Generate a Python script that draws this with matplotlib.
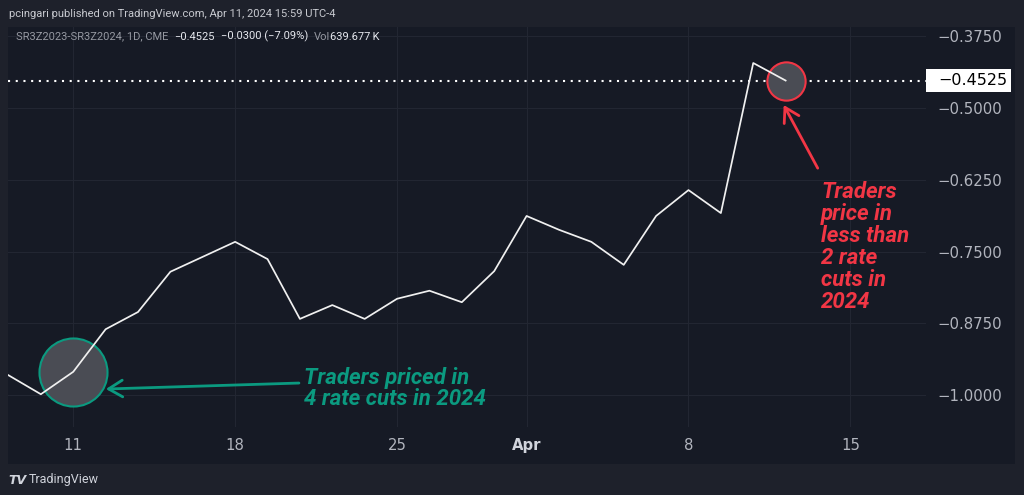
import matplotlib
matplotlib.use("Agg")
import matplotlib.pyplot as plt
import matplotlib.transforms as mtransforms
import pandas as pd

# trading days shown on the axis (Good Friday closed), incl. two empty future days
days = [d for d in pd.bdate_range("2024-03-07", "2024-04-15") if d != pd.Timestamp("2024-03-29")]

# SR3Z2023-SR3Z2024 spread, daily close
spread = [-0.965, -0.998, -0.959, -0.885, -0.855, -0.785, -0.759, -0.733,
          -0.763, -0.867, -0.843, -0.867, -0.832, -0.818, -0.838, -0.784,
          -0.688, -0.712, -0.733, -0.773, -0.688, -0.643, -0.683, -0.422,
          -0.4525]

yticks = [-0.375, -0.5, -0.625, -0.75, -0.875, -1.0]
ytick_labels = ["\u22120.3750", "\u22120.5000", "\u22120.6250", "\u22120.7500", "\u22120.8750", "\u22121.0000"]
xtick_days = ["2024-03-11", "2024-03-18", "2024-03-25", "2024-04-01", "2024-04-08", "2024-04-15"]
xtick_labels = ["11", "18", "25", "Apr", "8", "15"]

last = spread[-1]
W, H = 1024, 495
outer_bg = "#1e212b"
panel_bg = "#161a25"
grid_c = "#222632"
text_c = "#b2b5be"
green = "#0b9a80"
red = "#f23645"

fig = plt.figure(figsize=(W / 100, H / 100), dpi=100, facecolor=outer_bg)

# dark chart panel (price scale + time scale included)
bg = fig.add_axes([8 / W, 1 - 464 / H, (1015 - 8) / W, (464 - 27) / H], facecolor=panel_bg)
bg.set_axis_off()
bg.add_patch(matplotlib.patches.Rectangle((0, 0), 1, 1, transform=bg.transAxes,
                                          facecolor=panel_bg, edgecolor="none"))

ax = fig.add_axes([8 / W, 1 - 427 / H, (926 - 8) / W, (427 - 27) / H])
ax.set_facecolor("none")
x = list(range(len(spread)))
ax.plot(x, spread, color="#f0f0f0", lw=1.25, zorder=7)

ax.set_xlim(-0.015, 28.335)
ax.set_ylim(-1.055, -0.3594)

xpos = [days.index(pd.Timestamp(d)) for d in xtick_days]
ax.set_xticks(xpos)
ax.set_xticklabels(xtick_labels)
ax.set_yticks(yticks)
ax.set_yticklabels(ytick_labels)
ax.yaxis.tick_right()
ax.tick_params(axis="both", length=0, colors=text_c, labelsize=10.7)
ax.tick_params(axis="y", pad=8.5)
ax.tick_params(axis="x", pad=8)
for lbl in ax.get_xticklabels():
    if lbl.get_text() == "Apr":
        lbl.set_fontweight("bold")
        lbl.set_color("#d1d4dc")
ax.grid(True, color=grid_c, lw=0.8)
for s in ax.spines.values():
    s.set_visible(False)

# last price dotted line and price label
ax.axhline(last, color="white", lw=1.5, ls=(0, (1, 2.7)), zorder=4)
trans = mtransforms.blended_transform_factory(ax.transAxes, ax.transData)
lbl_tr = mtransforms.offset_copy(trans, fig, x=12, y=0, units="dots")
ax.text(1.0, last, "\u22120.4525", transform=lbl_tr, ha="left", va="center",
        fontsize=11.5, color="black", zorder=10, clip_on=False)
# white box behind the last price label
box_tr = mtransforms.offset_copy(trans, fig, x=0, y=-11.5, units="dots")
ax.add_patch(matplotlib.patches.Rectangle((1.0, last), 85 / 918, 23 / 400 * (-0.3594 + 1.055),
                                          transform=box_tr, facecolor="white", edgecolor="none",
                                          clip_on=False, zorder=9))

# highlight circles
ax.scatter([x[2]], [spread[2]], s=2400, facecolor="#4a4c54", edgecolor=green, lw=1.5, zorder=6)
ax.scatter([x[-1]], [last], s=760, facecolor="#4a4c54", edgecolor=red, lw=1.5, zorder=6)

# green arrow and text
g_tip = mtransforms.offset_copy(ax.transData, fig, x=23.5, y=-12.4, units="points")
ax.annotate("", xy=(x[2], spread[2]), xycoords=g_tip, xytext=(139, 4.3), textcoords="offset points",
            arrowprops=dict(arrowstyle="->,head_length=1.0,head_width=0.6", color=green, lw=2,
                            shrinkA=0, shrinkB=0),
            annotation_clip=False, zorder=8)
ax.annotate("Traders priced in\n4 rate cuts in 2024", xy=(x[2], spread[2]), xytext=(166.5, -12.2),
            textcoords="offset points", ha="left", va="center", color=green,
            fontsize=16, fontweight="bold", fontstyle="italic", family="Roboto",
            linespacing=0.95, zorder=8)

# red arrow and text
r_tip = mtransforms.offset_copy(ax.transData, fig, x=-1.4, y=-17.6, units="points")
ax.annotate("", xy=(x[-1], last), xycoords=r_tip, xytext=(24.5, -45.5), textcoords="offset points",
            arrowprops=dict(arrowstyle="->,head_length=1.0,head_width=0.6", color=red, lw=2,
                            shrinkA=0, shrinkB=0),
            annotation_clip=False, zorder=8)
ax.annotate("Traders\nprice in\nless than\n2 rate\ncuts in\n2024", xy=(x[-1], last),
            xytext=(25.5, -120), textcoords="offset points", ha="left", va="center",
            color=red, fontsize=16, fontweight="bold", fontstyle="italic", family="Roboto",
            linespacing=1.0, zorder=8)

# header texts
fig.text(9 / W, 1 - 14 / H, "pcingari published on TradingView.com, Apr 11, 2024 15:59 UTC-4",
         color="#c8cad0", fontsize=8.0, family="Roboto", va="center", ha="left")
hdr_y = 1 - 36.5 / H
parts = [("SR3Z2023-SR3Z2024, 1D, CME", "#9598a1", 6),
         ("\u22120.4525", "#e6e8ee", 6),
         ("\u22120.0300 (\u22127.09%)", "#e6e8ee", 6),
         ("Vol", "#9598a1", 0),
         ("639.677\u2009K", "#e6e8ee", 0)]
renderer = fig.canvas.get_renderer()
xp = 16
for txt, col, gap in parts:
    t = fig.text(xp / W, hdr_y, txt, color=col, fontsize=8.0, family="Roboto", va="center")
    xp = t.get_window_extent(renderer).x1 + gap

# footer logo
fig.text(8 / W, 1 - 480 / H, "TV", color="#d1d4dc", fontsize=9, fontweight="heavy",
         fontstyle="italic", va="center")
fig.text(29 / W, 1 - 480 / H, "TradingView", color="#d1d4dc", fontsize=9, family="Roboto", va="center")

fig.savefig("out.png", dpi=100, facecolor=outer_bg)
